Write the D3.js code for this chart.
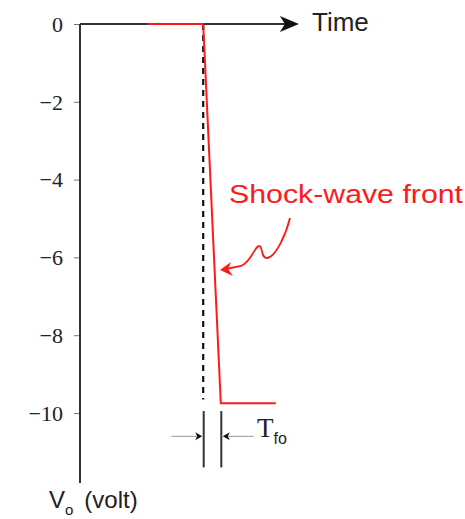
<!DOCTYPE html>
<html>
<head>
<meta charset="utf-8">
<script src="https://cdn.jsdelivr.net/npm/d3@7"></script>
<style>
  body { margin: 0; background: #fff; }
  svg { display: block; }
  .ylab { font-family: "Liberation Serif", "Times New Roman", serif; font-size: 22px; fill: #222; }
</style>
</head>
<body>
<svg id="chart"></svg>
<script>
// signal: flat at 0, steep front, then flat at about -9.75
const times = [31, 56, 64, 89];
const volts = [0, 0, -9.75, -9.75];
const yTicks = [0, -2, -4, -6, -8, -10];
const stepTime = 56;      // start of the front (dashed marker)
const frontEnd = 64;      // end of the front

const width = 465, height = 519;

const svg = d3.select('#chart')
    .attr('width', width)
    .attr('height', height);

// scales
const x = d3.scaleLinear().domain([0, 100]).range([80, 300]);
const y = d3.scaleLinear().domain([0, -10]).range([24, 413]);

const axisColor = '#333';

// y axis: tick marks from d3, labels drawn separately
const yAxis = d3.axisLeft(y)
    .tickValues(yTicks)
    .tickSize(6)
    .tickSizeOuter(0)
    .tickFormat('');

const yAxisG = svg.append('g')
    .attr('transform', `translate(${x(0)},0)`)
    .call(yAxis);
yAxisG.select('.domain').remove();
yAxisG.selectAll('.tick line').attr('stroke', '#777').attr('stroke-width', 1);

svg.selectAll('.ylab')
    .data(yTicks)
  .join('text')
    .attr('class', 'ylab')
    .attr('x', x(0) - 17)
    .attr('y', d => y(d))
    .attr('dy', '0.35em')
    .attr('text-anchor', 'end')
    .text(d => d === 0 ? '0' : '\u2212' + Math.abs(d));

// vertical axis line, runs past -10
svg.append('line')
    .attr('x1', x(0)).attr('x2', x(0))
    .attr('y1', y(0)).attr('y2', y(-11.8))
    .attr('stroke', axisColor).attr('stroke-width', 2);

// horizontal time axis with arrow
svg.append('line')
    .attr('x1', x(0)).attr('x2', x(95))
    .attr('y1', y(0)).attr('y2', y(0))
    .attr('stroke', axisColor).attr('stroke-width', 2);

const tipX = x(99.5), ay = y(0);
svg.append('path')
    .attr('d', `M${tipX},${ay} L${tipX - 19},${ay - 8} L${tipX - 14},${ay} L${tipX - 19},${ay + 8} Z`)
    .attr('fill', '#111');

svg.append('text')
    .attr('x', 312).attr('y', 31)
    .attr('fill', '#222')
    .style('font-family', '"Liberation Sans", Arial, sans-serif')
    .style('font-size', '26px')
    .text('Time');

// y axis title
const yTitle = svg.append('text')
    .attr('x', 49).attr('y', 508)
    .attr('fill', '#222')
    .style('font-family', '"Liberation Sans", Arial, sans-serif')
    .style('font-size', '24px');
yTitle.append('tspan').text('V');
yTitle.append('tspan').attr('dy', 7).style('font-size', '15px').text('o');
yTitle.append('tspan').attr('dy', -7).attr('dx', 11).text('(volt)');

// dashed marker at step time
svg.append('line')
    .attr('x1', x(stepTime)).attr('x2', x(stepTime))
    .attr('y1', y(0)).attr('y2', y(-9.65))
    .attr('stroke', '#111').attr('stroke-width', 2.2)
    .attr('stroke-dasharray', '6,5');

// signal line
const line = d3.line()
    .x((d, i) => x(times[i]))
    .y(d => y(d));

svg.append('path')
    .datum(volts)
    .attr('d', line)
    .attr('fill', 'none')
    .attr('stroke', '#ff1a1a')
    .attr('stroke-width', 2);

// T_fo dimension
[stepTime, frontEnd].forEach(t => {
  svg.append('line')
      .attr('x1', x(t) + 0.5).attr('x2', x(t) + 0.5)
      .attr('y1', y(-9.95)).attr('y2', y(-11.4))
      .attr('stroke', '#333').attr('stroke-width', 2);
});

const dimY = y(-10.6);
const lx = x(stepTime) - 1, rx = x(frontEnd) + 2;
svg.append('line')
    .attr('x1', lx - 31).attr('x2', lx - 4)
    .attr('y1', dimY).attr('y2', dimY)
    .attr('stroke', '#999').attr('stroke-width', 1);
svg.append('line')
    .attr('x1', rx + 4).attr('x2', rx + 31)
    .attr('y1', dimY).attr('y2', dimY)
    .attr('stroke', '#999').attr('stroke-width', 1);
svg.append('path')
    .attr('d', `M${lx},${dimY} L${lx - 7},${dimY - 4} L${lx - 5},${dimY} L${lx - 7},${dimY + 4} Z`)
    .attr('fill', '#111');
svg.append('path')
    .attr('d', `M${rx},${dimY} L${rx + 7},${dimY - 4} L${rx + 5},${dimY} L${rx + 7},${dimY + 4} Z`)
    .attr('fill', '#111');

const tLabel = svg.append('text')
    .attr('x', 257).attr('y', 437)
    .attr('fill', '#222');
tLabel.append('tspan')
    .style('font-family', '"Liberation Serif", "Times New Roman", serif')
    .style('font-size', '27px')
    .text('T');
tLabel.append('tspan')
    .attr('dy', 7)
    .style('font-family', '"Liberation Sans", Arial, sans-serif')
    .style('font-size', '16px')
    .text('fo');

// shock-wave annotation
svg.append('text')
    .attr('x', 229).attr('y', 203)
    .attr('fill', '#ff1a1a')
    .attr('textLength', 234)
    .attr('lengthAdjust', 'spacingAndGlyphs')
    .style('font-family', '"Liberation Sans", Arial, sans-serif')
    .style('font-size', '26px')
    .text('Shock-wave front');

svg.append('path')
    .attr('d', 'M290,218 C286,234 276,257 267,258 C261,259 263,246 259,246 C254,247 252,261 241,266 L226,269')
    .attr('fill', 'none')
    .attr('stroke', '#ff1a1a')
    .attr('stroke-width', 1.8);
svg.append('path')
    .attr('d', 'M220,270 L231,262 L228,269 L233,276 Z')
    .attr('fill', '#ff1a1a');
</script>
</body>
</html>
